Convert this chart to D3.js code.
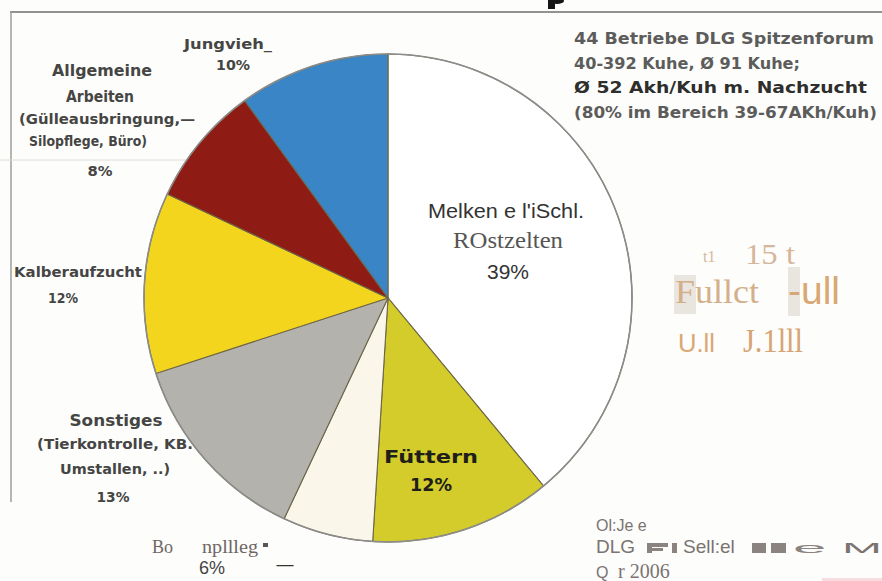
<!DOCTYPE html>
<html>
<head>
<meta charset="utf-8">
<script src="https://cdn.jsdelivr.net/npm/d3@7"></script>
<style>
  body { margin: 0; background: #fdfdfc; }
  svg { display: block; }
</style>
</head>
<body>
<script>
var width = 882, height = 581;

// slices, clockwise from 12 o'clock
var categories = ["Melken", "Füttern", "Boxenpflege", "Sonstiges", "Kälberaufzucht", "Allgemeine Arbeiten", "Jungvieh"];
var shares = [39, 12, 6, 13, 12, 8, 10];
var colors = ["#ffffff", "#d4cc2a", "#faf7ea", "#b4b2ad", "#f4d51e", "#8e1c15", "#3a85c5"];

var infoLines = ["44 Betriebe DLG Spitzenforum", "40-392 Kuhe, Ø 91 Kuhe;", "Ø 52 Akh/Kuh m. Nachzucht", "(80% im Bereich 39-67AKh/Kuh)"];
var infoWidths = [300, 226, 293, 303];

var data = categories.map(function(c, i) { return {name: c, value: shares[i], color: colors[i]}; });

var svg = d3.select("body").append("svg")
    .attr("width", width)
    .attr("height", height);

svg.append("rect").attr("width", width).attr("height", height).attr("fill", "#fdfdfc");

// frame fragments of the scanned page
svg.append("line").attr("x1", 10).attr("x2", width).attr("y1", 12).attr("y2", 12)
    .attr("stroke", "#6e6e6a").attr("stroke-width", 1.6);
svg.append("line").attr("x1", 11).attr("x2", 11).attr("y1", 12).attr("y2", 502)
    .attr("stroke", "#a4a39c").attr("stroke-width", 1.6);
svg.append("line").attr("x1", 0).attr("x2", 300).attr("y1", 160).attr("y2", 160)
    .attr("stroke", "#dcdcd8").attr("stroke-width", 1);

// bit of the cut-off title above the frame
svg.append("rect").attr("x", 548).attr("y", 0).attr("width", 7).attr("height", 9).attr("fill", "#151515");
svg.append("ellipse").attr("cx", 557).attr("cy", 1).attr("rx", 7).attr("ry", 3).attr("fill", "#151515");

var cx = 388, cy = 298, r = 244;

var pie = d3.pie().sort(null).value(function(d) { return d.value; })
    .startAngle(0).endAngle(2 * Math.PI);
var arc = d3.arc().innerRadius(0).outerRadius(r);

var g = svg.append("g").attr("transform", "translate(" + cx + "," + cy + ")");

g.selectAll("path")
  .data(pie(data))
  .enter()
  .append("path")
    .attr("d", arc)
    .attr("fill", function(d) { return d.data.color; })
    .attr("stroke", "#6d6648")
    .attr("stroke-width", 1.1);

g.append("circle").attr("r", r).attr("fill", "none")
    .attr("stroke", "#8c8c8a").attr("stroke-width", 1.6);

// labels
var sans = "DejaVu Sans, Verdana, sans-serif";
var arial = "Liberation Sans, Arial, sans-serif";
var serif = "Liberation Serif, Times New Roman, serif";

function label(x, y, txt, opts) {
  opts = opts || {};
  var t = svg.append("text")
    .attr("x", x).attr("y", y)
    .attr("text-anchor", opts.anchor || "middle")
    .attr("font-family", opts.family || sans)
    .attr("font-weight", opts.weight || "bold")
    .attr("font-size", opts.size || 14)
    .attr("fill", opts.fill || "#454543")
    .text(txt);
  if (opts.w) t.attr("textLength", opts.w).attr("lengthAdjust", "spacingAndGlyphs");
  return t;
}

label(228, 49, "Jungvieh_", {size: 14.5, w: 88});
label(233, 70, "10%", {size: 14, w: 34});

label(102, 76, "Allgemeine", {size: 15, w: 100});
label(100, 102, "Arbeiten", {size: 15, w: 68});
label(107, 124, "(Gülleausbringung,—", {size: 13.5, w: 176});
label(88, 146, "Silopflege, Büro)", {size: 13.5, w: 118});
label(100, 176, "8%", {size: 14, w: 25});

label(78, 277, "Kalberaufzucht", {size: 14.5, w: 128});
label(63, 303, "12%", {size: 14, w: 30});

label(116, 426, "Sonstiges", {size: 15, w: 93});
label(115, 449, "(Tierkontrolle, KB.", {size: 14, w: 156});
label(115, 474, "Umstallen, ..)", {size: 14, w: 110});
label(113, 502, "13%", {size: 14, w: 33});

label(431, 463, "Füttern", {size: 18, w: 94, fill: "#1e1e1a"});
label(431, 491, "12%", {size: 18, w: 42, fill: "#1e1e1a"});

label(506, 218, "Melken e l'iSchl.", {weight: "normal", size: 21, family: arial, fill: "#333", w: 156});
label(508, 248, "ROstzelten", {weight: "normal", size: 24, family: serif, fill: "#555", w: 110});
label(508, 279, "39%", {weight: "normal", size: 21, family: arial, fill: "#333", w: 42});

// info block top right
infoLines.forEach(function(t, i) {
  label(574, 44 + i * 24.5, t, {anchor: "start", size: 15.5, w: infoWidths[i],
    fill: i === 2 ? "#2e2e2c" : "#5c5c5a"});
});

// scanner artefacts on the right
svg.append("rect").attr("x", 674).attr("y", 275).attr("width", 22).attr("height", 39).attr("fill", "#e9e5df");
svg.append("rect").attr("x", 788).attr("y", 267).attr("width", 12).attr("height", 49).attr("fill", "#e9e5df");
label(703, 262, "t1", {anchor: "start", weight: "normal", size: 16, family: serif, fill: "#d8b896"});
label(745, 264, "15 t", {anchor: "start", weight: "normal", size: 30, family: serif, fill: "#d6b69a", w: 50});
label(675, 303, "Fullct", {anchor: "start", weight: "normal", size: 33, family: serif, fill: "#d4b08a", w: 84});
label(788, 304, "-ull", {anchor: "start", weight: "normal", size: 38, family: arial, fill: "#d8a874", w: 52});
label(678, 352, "U.ll", {anchor: "start", weight: "normal", size: 26, family: arial, fill: "#d9a873", w: 37});
label(743, 352, "J.1lll", {anchor: "start", weight: "normal", size: 33, family: serif, fill: "#d7a474", w: 60});

// bottom texts
label(152, 553, "Bo", {anchor: "start", weight: "normal", size: 18, family: serif, fill: "#6f6664"});
label(202, 553, "npllleg", {anchor: "start", weight: "normal", size: 18, family: serif, fill: "#6f6664", w: 56});
svg.append("rect").attr("x", 263).attr("y", 543).attr("width", 5).attr("height", 4).attr("fill", "#555");
label(212, 574, "6%", {weight: "normal", size: 18, family: arial, fill: "#444"});
label(285, 570, "—", {weight: "normal", size: 17, family: arial, fill: "#333"});

var grey = "#7a7370", greyMark = "#8a8380";
label(596, 531, "Ol:Je e", {anchor: "start", weight: "normal", size: 16, family: arial, fill: grey});
label(596, 553, "DLG", {anchor: "start", weight: "normal", size: 19, family: arial, fill: grey});
svg.append("rect").attr("x", 647).attr("y", 543).attr("width", 21).attr("height", 4).attr("fill", greyMark);
svg.append("rect").attr("x", 647).attr("y", 543).attr("width", 5).attr("height", 10).attr("fill", greyMark);
svg.append("rect").attr("x", 647).attr("y", 548).attr("width", 16).attr("height", 3).attr("fill", greyMark);
svg.append("rect").attr("x", 672).attr("y", 543).attr("width", 5).attr("height", 10).attr("fill", greyMark);
label(683, 553, "Sell:el", {anchor: "start", weight: "normal", size: 19, family: arial, fill: grey});
svg.append("rect").attr("x", 752).attr("y", 543).attr("width", 14).attr("height", 10).attr("fill", greyMark);
svg.append("rect").attr("x", 771).attr("y", 543).attr("width", 15).attr("height", 10).attr("fill", greyMark);
label(793, 553, "e", {anchor: "start", weight: "normal", size: 20, family: arial, fill: greyMark})
    .attr("transform", "translate(793,553) scale(3,0.7) translate(-793,-553)");
label(842, 553, "M", {anchor: "start", weight: "normal", size: 20, family: arial, fill: grey})
    .attr("transform", "translate(842,553) scale(2.4,0.75) translate(-842,-553)");
label(596, 578, "Q", {anchor: "start", weight: "normal", size: 16, family: arial, fill: grey});
label(618, 578, "r 2006", {anchor: "start", weight: "normal", size: 20, family: serif, fill: grey});
svg.append("rect").attr("x", 822).attr("y", 578).attr("width", 60).attr("height", 3).attr("fill", "#f6dcdf");
</script>
</body>
</html>
